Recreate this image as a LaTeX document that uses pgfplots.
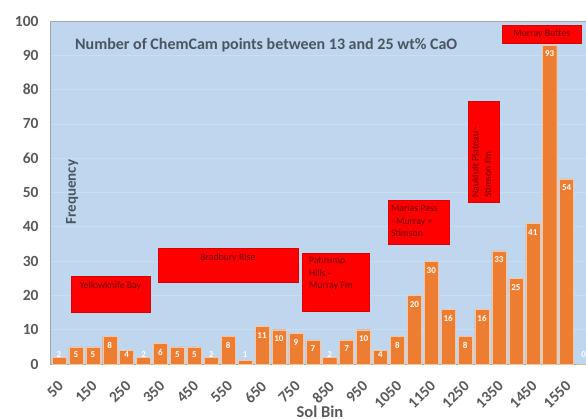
\documentclass[border=0pt]{standalone}
\usepackage{pgfplots}
\pgfplotsset{compat=1.18}
\usepackage{fontspec}
\setmainfont{Carlito}
\definecolor{bg}{RGB}{190,215,238}
\definecolor{barc}{RGB}{237,125,49}
\definecolor{txtg}{RGB}{89,89,89}
\definecolor{titlec}{RGB}{75,85,95}
\definecolor{boxtxt}{RGB}{110,0,0}
\definecolor{gridc}{RGB}{202,222,240}
\newcommand{\boxfont}{\fontsize{9.8}{12.5}\selectfont}
\begin{document}
\begin{tikzpicture}
\begin{axis}[
  scale only axis, width=542pt, height=343pt,
  xmin=-0.53, xmax=31.5, ymin=0, ymax=100,
  axis background/.style={fill=bg},
  axis line style={draw=gray!70},
  ytick={0,10,...,100},
  xtick={0,2,...,30},
  xticklabels={50,150,250,350,450,550,650,750,850,950,1050,1150,1250,1350,1450,1550},
  major tick length=0pt,
  ymajorgrids, grid style={gridc, line width=0.8pt},
  /pgf/number format/assume math mode=true,
  tick label style={font=\fontsize{15.5}{18}\selectfont\bfseries, text=txtg},
  yticklabel style={xshift=-8pt},
  xticklabel style={xshift=-2pt, yshift=-11pt, rotate=45, anchor=north east},
  xlabel={Sol Bin},
  xlabel style={at={(rel axis cs:0.498,0)}, anchor=north, yshift=-38pt, font=\fontsize{16.5}{19}\selectfont\bfseries, text=txtg},
  ylabel={Frequency},
  ylabel style={at={(rel axis cs:0.041,0.501)}, anchor=center, font=\fontsize{15}{18}\selectfont\bfseries, text=titlec},
]
\addplot[ybar, bar width=0.83, bar shift=0pt, fill=barc, draw=white!55!barc, line width=0.4pt,
  nodes near coords,
  visualization depends on={rawy \as \rawy},
  every node near coord/.append style={anchor=center, inner sep=0pt, font=\fontsize{9}{10}\selectfont\bfseries, text=white, yshift={max(-9,9-3.43*\rawy)}}]
coordinates {
(0,2) (1,5) (2,5) (3,8) (4,4) (5,2) (6,6) (7,5) (8,5) (9,2)
(10,8) (11,1) (12,11) (13,10) (14,9) (15,7) (16,2) (17,7) (18,10) (19,4)
(20,8) (21,20) (22,30) (23,16) (24,8) (25,16) (26,33) (27,25) (28,41) (29,93)
(30,54) (31,0)
};
\coordinate (O) at (rel axis cs:0,0);
% annotation boxes
\filldraw[fill=red, draw=red!85!black, line width=0.5pt] (axis cs:0.709,15.16) rectangle (axis cs:5.375,25.66);
\node[text=boxtxt, font=\boxfont, inner sep=0pt] at (axis cs:3.04,22.7) {Yellowknife Bay};
\filldraw[fill=red, draw=red!85!black, line width=0.5pt] (axis cs:5.85,23.9) rectangle (axis cs:14.12,33.8);
\node[text=boxtxt, font=\boxfont, inner sep=0pt] at (axis cs:9.98,30.9) {Bradbury Rise};
\filldraw[fill=red, draw=red!85!black, line width=0.5pt] (axis cs:14.35,15.45) rectangle (axis cs:18.31,32.4);
\node[text=boxtxt, font=\boxfont, inner sep=0pt, anchor=north west, align=left] at (axis cs:14.77,31.2) {Pahrump\\Hills -\\Murray Fm};
\filldraw[fill=red, draw=red!85!black, line width=0.5pt] (axis cs:19.43,35.0) rectangle (axis cs:23.04,47.8);
\node[text=boxtxt, font=\boxfont, inner sep=0pt, anchor=north west, align=left] at (axis cs:19.61,46.36) {Marias Pass\\- Murray +\\Stimson};
\filldraw[fill=red, draw=red!85!black, line width=0.5pt] (axis cs:24.16,47.2) rectangle (axis cs:25.99,76.7);
\node[text=boxtxt, font=\boxfont, inner sep=0pt, anchor=north west, align=left, rotate=90] at (axis cs:24.39,48.4) {Naukluft Plateau -\\Stimson Fm};
\filldraw[fill=red, draw=red!85!black, line width=0.5pt] (axis cs:26.17,93.6) rectangle (axis cs:30.89,98.8);
\node[text=boxtxt, font=\boxfont, inner sep=0pt] at (axis cs:28.53,96.2) {Murray Buttes};
% title
\node[anchor=west, font=\fontsize{16}{19}\selectfont\bfseries, text=titlec, inner sep=0pt] at (rel axis cs:0.046,0.930) {Number of ChemCam points between 13 and 25 wt\% CaO};
\end{axis}
\pgfresetboundingbox
\path[use as bounding box] ([shift={(-50pt,-54pt)}]O) rectangle ([shift={(536pt,364pt)}]O);
\end{tikzpicture}
\end{document}
